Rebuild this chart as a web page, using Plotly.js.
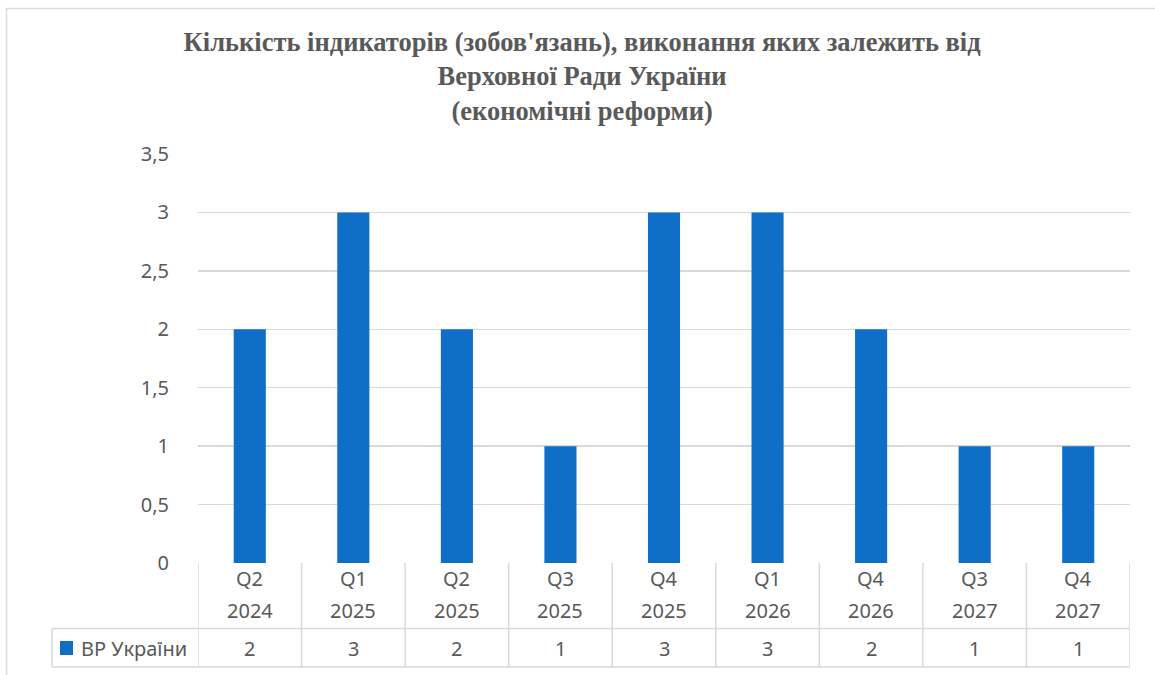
<!DOCTYPE html>
<html>
<head>
<meta charset="utf-8">
<script src="https://cdn.plot.ly/plotly-3.0.1.min.js"></script>
<style>html,body{margin:0;padding:0;background:#fff;}#chart{width:1155px;height:675px;}</style>
</head>
<body>
<div id="chart"></div>
<script>
// Data
const quarters = ['Q2', 'Q1', 'Q2', 'Q3', 'Q4', 'Q1', 'Q4', 'Q3', 'Q4'];
const years = ['2024', '2025', '2025', '2025', '2025', '2026', '2026', '2027', '2027'];
const values = [2, 3, 2, 1, 3, 3, 2, 1, 1];
const seriesName = 'ВР України';
const titleText = "Кількість індикаторів (зобов'язань), виконання яких залежить від<br>Верховної Ради України<br>(економічні реформи)";

const categories = quarters.map((q, i) => q + ' ' + years[i]);

const gray = '#595959';
const lineGray = '#d9d9d9';
const barBlue = '#0f6fc6';
const font = 'Noto Sans, Open Sans, sans-serif';
const fs = 20;

// plot area geometry (pixels) to convert to paper coords
const L = 198, R = 1130, T = 154, B = 563, W = 1155, H = 675;
const pw = R - L, ph = B - T;
const px = v => (v - L) / pw;
const py = v => (B - v) / ph;

const shapes = [];
const annotations = [];

// chart outer border
shapes.push({type: 'rect', xref: 'paper', yref: 'paper', x0: px(6.5), x1: px(1175), y0: py(700), y1: py(8.5),
  line: {color: lineGray, width: 1.5}, fillcolor: 'rgba(0,0,0,0)', layer: 'below'});

// data table: vertical boundaries between categories
for (let i = 0; i <= categories.length; i++) {
  shapes.push({type: 'line', xref: 'x', yref: 'paper', x0: i - 0.5, x1: i - 0.5, y0: py(563), y1: py(667),
    line: {color: lineGray, width: 1.5}});
}
// horizontal lines of the data table
shapes.push({type: 'line', xref: 'paper', yref: 'paper', x0: px(52), x1: 1, y0: py(628.5), y1: py(628.5), line: {color: lineGray, width: 1.5}});
shapes.push({type: 'line', xref: 'paper', yref: 'paper', x0: px(52), x1: 1, y0: py(667), y1: py(667), line: {color: lineGray, width: 1.5}});
shapes.push({type: 'line', xref: 'paper', yref: 'paper', x0: px(52), x1: px(52), y0: py(628.5), y1: py(667), line: {color: lineGray, width: 1.5}});
// legend key
shapes.push({type: 'rect', xref: 'paper', yref: 'paper', x0: px(60), x1: px(73), y0: py(655), y1: py(641),
  line: {width: 0}, fillcolor: barBlue});
annotations.push({xref: 'paper', yref: 'paper', x: px(79), y: py(648), xanchor: 'left', yanchor: 'middle',
  text: seriesName, showarrow: false, font: {family: font, size: fs, color: gray}});

categories.forEach((c, i) => {
  annotations.push({xref: 'x', yref: 'paper', x: c, y: py(578), yanchor: 'middle', text: quarters[i], showarrow: false,
    font: {family: font, size: fs, color: gray}});
  annotations.push({xref: 'x', yref: 'paper', x: c, y: py(610), yanchor: 'middle', text: years[i], showarrow: false,
    font: {family: font, size: fs, color: gray}});
  annotations.push({xref: 'x', yref: 'paper', x: c, y: py(648), yanchor: 'middle', text: String(values[i]), showarrow: false,
    font: {family: font, size: fs, color: gray}});
});

const trace = {
  type: 'bar', x: categories, y: values, name: seriesName,
  marker: {color: barBlue}, hoverinfo: 'x+y'
};

const layout = {
  width: W, height: H,
  margin: {l: L, r: W - R, t: T, b: H - B, pad: 0},
  paper_bgcolor: '#fff', plot_bgcolor: '#fff',
  showlegend: false,
  bargap: 0.69,
  title: {text: titleText, x: 0.504, xref: 'container', y: 1 - 51 / 675, yref: 'container', yanchor: 'middle',
    font: {family: 'Liberation Serif, Times New Roman, serif', size: 26.5, color: gray, weight: 'bold'}},
  xaxis: {type: 'category', showticklabels: false, ticks: '', showgrid: false, zeroline: false,
    showline: false, range: [-0.5, categories.length - 0.5]},
  yaxis: {range: [0, 3.5], dtick: 0.5, tick0: 0, showgrid: true, gridcolor: lineGray, gridwidth: 1.3,
    zeroline: false, showline: false, ticks: 'outside', ticklen: 24, tickcolor: 'rgba(0,0,0,0)',
    tickfont: {family: font, size: fs, color: gray}},
  separators: ', ',
  shapes: shapes,
  annotations: annotations
};

Plotly.newPlot('chart', [trace], layout, {displayModeBar: false, staticPlot: true});
</script>
</body>
</html>
